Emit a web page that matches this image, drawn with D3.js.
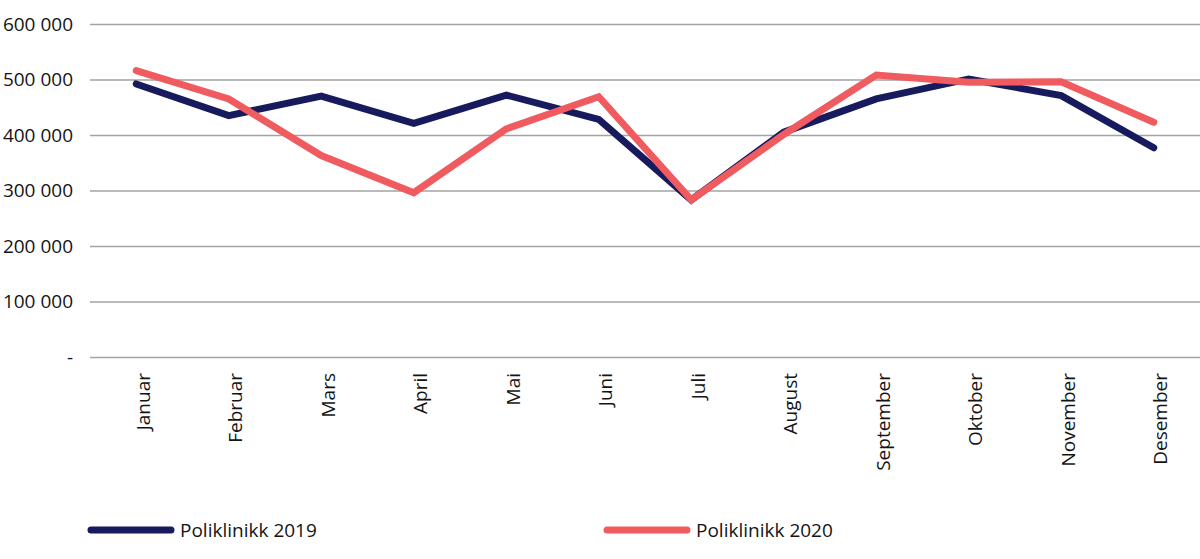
<!DOCTYPE html>
<html>
<head>
<meta charset="utf-8">
<script src="https://cdn.jsdelivr.net/npm/d3@7"></script>
<style>
    body { margin: 0; background: #fff; }
    #chart { width: 1200px; height: 559px; }
    #chart text { font-family: "Open Sans", sans-serif; }
</style>
</head>
<body>
<div id="chart"></div>
<script>
const months = ["Januar", "Februar", "Mars", "April", "Mai", "Juni", "Juli",
    "August", "September", "Oktober", "November", "Desember"];
const poliklinikk2019 = [492000, 435000, 470000, 421000, 472000, 428000, 283000,
    405000, 465000, 501000, 471000, 377000];
const poliklinikk2020 = [516000, 465000, 363000, 296000, 411000, 469000, 283000,
    401000, 508000, 495000, 496000, 423000];
const yTicks = [0, 100000, 200000, 300000, 400000, 500000, 600000];
const seriesNames = ["Poliklinikk 2019", "Poliklinikk 2020"];
const seriesColors = ["#171a5c", "#ef5b5f"];

function createLineChart() {
    const width = 1200;
    const height = 559;
    const margin = { top: 24, right: 0, bottom: 202, left: 90 };

    const svg = d3.select('#chart').append('svg')
        .attr('width', width)
        .attr('height', height);

    const x = d3.scaleBand()
        .domain(months)
        .range([margin.left, width - margin.right]);

    const y = d3.scaleLinear()
        .domain([0, 600000])
        .range([height - margin.bottom, margin.top]);

    const fmt = v => v === 0 ? "-" : d3.format(",")(v).replace(/,/g, " ");

    // Gridlines + y labels
    const yAxis = svg.append("g")
        .attr("transform", `translate(${margin.left},0)`)
        .call(d3.axisLeft(y)
            .tickValues(yTicks)
            .tickSize(-(width - margin.left - margin.right))
            .tickPadding(17)
            .tickFormat(fmt));
    yAxis.select(".domain").remove();
    yAxis.selectAll(".tick line")
        .attr("stroke", "#a3a3a3")
        .attr("stroke-width", 1.5);
    yAxis.selectAll(".tick text")
        .attr("fill", "#141414")
        .style("font-size", "19px");

    // Month labels, rotated
    const xAxis = svg.append("g")
        .attr("transform", `translate(0,${height - margin.bottom})`)
        .call(d3.axisBottom(x).tickSize(0).tickPadding(0));
    xAxis.select(".domain").remove();
    xAxis.selectAll(".tick text")
        .attr("fill", "#141414")
        .style("font-size", "19px")
        .attr("text-anchor", "end")
        .attr("transform", "rotate(-90)")
        .attr("x", -16)
        .attr("y", 0)
        .attr("dy", "0.7em")
        .attr("dx", 0);

    const line = d3.line()
        .x((d, i) => x(months[i]) + x.bandwidth() / 2)
        .y(d => y(d));

    [poliklinikk2019, poliklinikk2020].forEach((values, i) => {
        svg.append("path")
            .datum(values)
            .attr("fill", "none")
            .attr("stroke", seriesColors[i])
            .attr("stroke-width", 7)
            .attr("stroke-linejoin", "miter")
            .attr("stroke-linecap", "round")
            .attr("d", line);
    });

    // Legend
    const legendX = [91, 607];
    const legend = svg.append("g");
    seriesNames.forEach((name, i) => {
        legend.append("line")
            .attr("x1", legendX[i])
            .attr("x2", legendX[i] + 80)
            .attr("y1", 530)
            .attr("y2", 530)
            .attr("stroke", seriesColors[i])
            .attr("stroke-width", 7)
            .attr("stroke-linecap", "round");
        legend.append("text")
            .attr("x", legendX[i] + 89)
            .attr("y", 537)
            .attr("fill", "#141414")
            .style("font-size", "19px")
            .text(name);
    });
}

createLineChart();
</script>
</body>
</html>
